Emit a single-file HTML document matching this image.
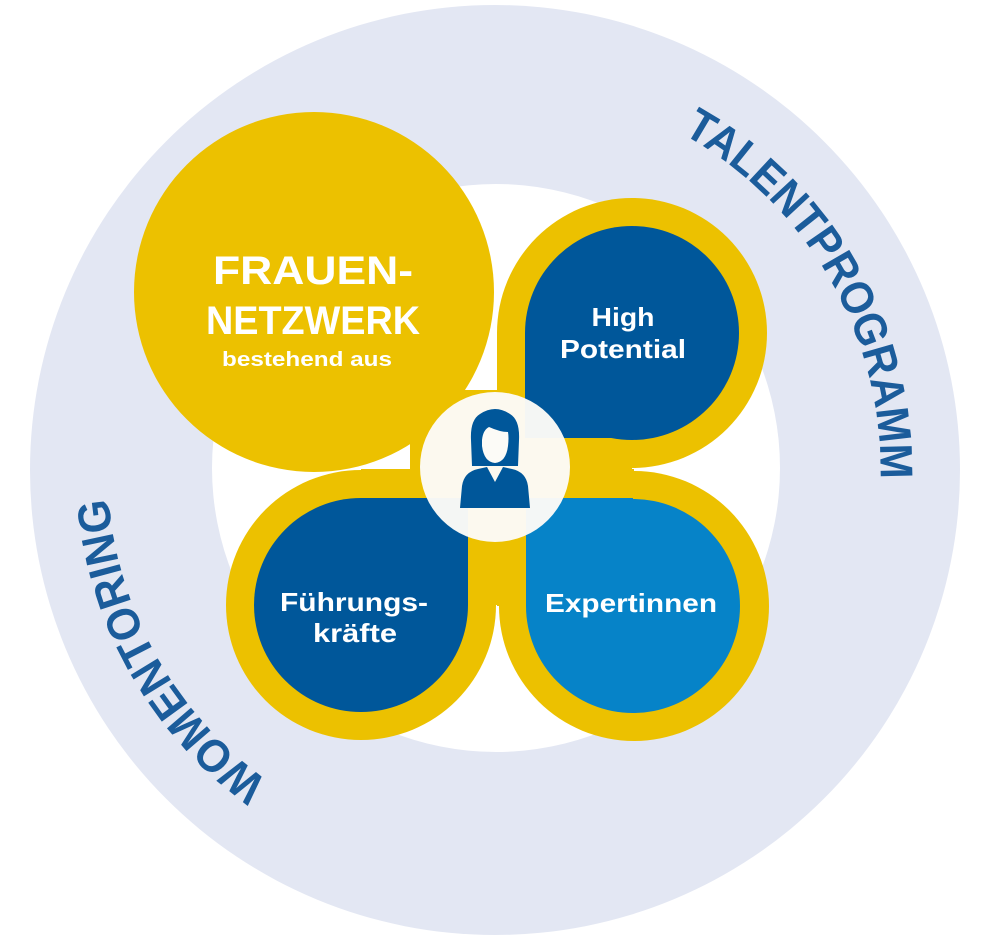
<!DOCTYPE html>
<html><head><meta charset="utf-8"><style>
html,body{margin:0;padding:0;background:#fff;}
svg{display:block;}
text{font-family:"Liberation Sans",sans-serif;font-weight:bold;}
</style></head><body>
<svg width="993" height="940" viewBox="0 0 993 940" xmlns="http://www.w3.org/2000/svg">
<defs>
<path id="arcR" d="M 679 132 A 385 385 0 0 1 879 505"/>
<path id="arcL" d="M 268 781 A 388 388 0 0 1 108 492"/>
</defs>
<rect width="993" height="940" fill="#fff"/>
<circle cx="495" cy="470" r="465" fill="#e3e7f3"/>
<circle cx="496" cy="468" r="284" fill="#fff"/>

<g fill="#ecc100">
<circle cx="314" cy="292" r="180"/>
<circle cx="632" cy="333" r="135"/><rect x="497" y="333" width="135" height="136"/>
<circle cx="634" cy="606" r="135"/><rect x="497" y="469" width="137" height="137"/>
<circle cx="361" cy="605" r="135"/><rect x="361" y="469" width="136" height="136"/>
<rect x="410" y="390" width="90" height="80"/>
</g>
<g fill="#00579a">
<circle cx="632" cy="333" r="107"/><rect x="525" y="333" width="107" height="105"/>
<circle cx="361" cy="605" r="107"/><rect x="361" y="498" width="107" height="107"/>
</g>
<g fill="#0683c8">
<circle cx="633" cy="606" r="107"/><rect x="526" y="498" width="107" height="108"/>
</g>

<circle cx="495" cy="467" r="75" fill="#fcfbf7" opacity="0.97"/>
<g fill="#00579a">
<path d="M471 440 Q470 420 480 414 Q495 404 510 414 Q520 420 519 440 L518 466 L472 466 Z"/>
<path d="M482 440 Q483 430 489 427 Q500 432 508 432 Q509 438 508 446 Q506 462 495 463 Q484 462 482 446 Z" fill="#fcfbf7"/>
<path d="M460 508 L462 486 Q464 472 478 469 L487 467 L495 482 L503 467 L512 469 Q526 472 528 486 L530 508 Z"/>
</g>

<g fill="#fff" text-anchor="middle">
<text x="313" y="284" font-size="40" textLength="200" lengthAdjust="spacingAndGlyphs">FRAUEN-</text>
<text x="313" y="334" font-size="40" textLength="214" lengthAdjust="spacingAndGlyphs">NETZWERK</text>
<text x="307" y="366" font-size="20" textLength="170" lengthAdjust="spacingAndGlyphs">bestehend aus</text>
<text x="623" y="326" font-size="26" textLength="63" lengthAdjust="spacingAndGlyphs">High</text>
<text x="623" y="358" font-size="26" textLength="126" lengthAdjust="spacingAndGlyphs">Potential</text>
<text x="354" y="611" font-size="26" textLength="148" lengthAdjust="spacingAndGlyphs">Führungs-</text>
<text x="355" y="642" font-size="26" textLength="84" lengthAdjust="spacingAndGlyphs">kräfte</text>
<text x="631" y="612" font-size="26" textLength="172" lengthAdjust="spacingAndGlyphs">Expertinnen</text>
</g>

<g fill="#1b5c9b" font-size="46">
<text><textPath href="#arcR" startOffset="4" textLength="418" lengthAdjust="spacingAndGlyphs">TALENTPROGRAMM</textPath></text>
<text><textPath href="#arcL" textLength="335" lengthAdjust="spacingAndGlyphs">WOMENTORING</textPath></text>
</g>
</svg>
</body></html>
